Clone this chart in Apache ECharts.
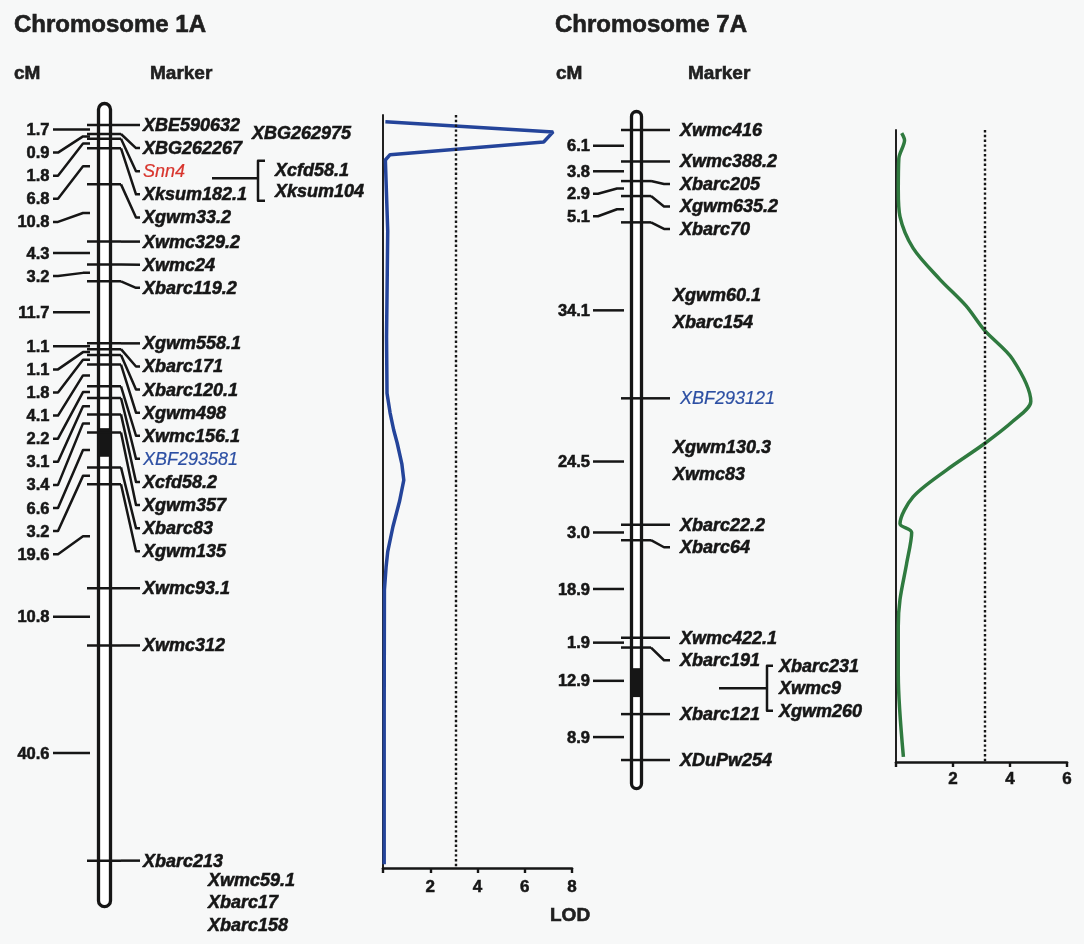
<!DOCTYPE html>
<html><head><meta charset="utf-8">
<script src="https://cdn.jsdelivr.net/npm/echarts@6/dist/echarts.min.js"></script>
<style>html,body{margin:0;padding:0;background:#f7f8f8}#c{width:1084px;height:944px}</style>
</head><body><div id="c"></div>
<script>
// ================= DATA =================
// Chromosome 1A: markers (top to bottom) and distances (cM) between consecutive markers
const chr1A_markers = ['XBE590632','XBG262267','Snn4','Xksum182.1','Xgwm33.2','Xwmc329.2','Xwmc24','Xbarc119.2',
  'Xgwm558.1','Xbarc171','Xbarc120.1','Xgwm498','Xwmc156.1','XBF293581','Xcfd58.2','Xgwm357','Xbarc83','Xgwm135',
  'Xwmc93.1','Xwmc312','Xbarc213'];
const chr1A_intervals = [1.7,0.9,1.8,6.8,10.8,4.3,3.2,11.7,1.1,1.1,1.8,4.1,2.2,3.1,3.4,6.6,3.2,19.6,10.8,40.6];
const chr1A_extra = 'XBG262975';              // placed beside the top marker
const chr1A_extraPos = 1.5;                    // cM
const chr1A_snn4Group = ['Xcfd58.1','Xksum104'];       // co-segregating with Snn4
const chr1A_endGroup = ['Xwmc59.1','Xbarc17','Xbarc158']; // co-located with Xbarc213
const chr1A_centromere = [57.2, 62.6];         // cM

// Chromosome 7A
const chr7A_markers = ['Xwmc416','Xwmc388.2','Xbarc205','Xgwm635.2','Xbarc70','XBF293121','Xbarc22.2','Xbarc64',
  'Xwmc422.1','Xbarc191','Xbarc121','XDuPw254'];
const chr7A_intervals = [6.1,3.8,2.9,5.1,34.1,24.5,3.0,18.9,1.9,12.9,8.9];
const chr7A_floatA = ['Xgwm60.1','Xbarc154'];   const chr7A_floatAPos = 34.6;
const chr7A_floatB = ['Xgwm130.3','Xwmc83'];    const chr7A_floatBPos = 64.1;
const chr7A_bracket = ['Xbarc231','Xwmc9','Xgwm260']; const chr7A_bracketPos = 108.2;
const chr7A_centromere = [104.3, 109.9];

// LOD profiles (position in cM, LOD score)
const lod1A_pos = [-0.6, 1.3, 3.2, 5.6, 6.6, 20, 40, 50.6, 54.3, 57.5, 60.0, 64.0, 67.0, 71.0, 75.8, 80.5, 83.4, 87.7, 110, 139.5];
const lod1A_lod = [0.1, 7.2, 6.8, 0.3, 0.1, 0.2, 0.15, 0.17, 0.3, 0.45, 0.6, 0.8, 0.88, 0.7, 0.42, 0.2, 0.13, 0.06, 0.05, 0.05];
const lod7A_pos = [0.6, 2.0, 5.5, 11.6, 16.8, 22.9, 28.9, 34.1, 38.8, 44.4, 52.6, 56.5, 60.8, 65.9, 71.1, 76.3, 78.0, 84.1, 91.0, 96.1, 105.6, 121.5];
const lod7A_lod = [0.2, 0.3, 0.1, 0.08, 0.14, 0.6, 1.53, 2.46, 3.1, 4.09, 4.73, 4.09, 3.1, 1.77, 0.6, 0.14, 0.55, 0.37, 0.14, 0.08, 0.08, 0.26];
const lodThreshold = 3.1;
const lod1A_ticks = ['2','4','6','8'];
const lod7A_ticks = ['2','4','6'];

// ================= STYLE / LAYOUT =================
const FONT = '"Liberation Sans", Arial, Helvetica, sans-serif';
const INK = '#161616';
const highlight = {'Snn4':'#d8342c','XBF293581':'#2c4fa3','XBF293121':'#2c4fa3'};
const markerFont = 'italic bold 18px ' + FONT;
const markerFontLight = 'italic 18px ' + FONT;
const numFont = 'bold 16.5px ' + FONT;

function cumulative(iv){ const p=[0]; iv.forEach(v=>p.push(Math.round((p[p.length-1]+v)*100)/100)); return p; }
function pushDown(ys, gap){ const out=[]; let prev=-1e9; ys.forEach(y=>{const v=Math.max(y, prev+gap); out.push(v); prev=v;}); return out; }

const chr1A_pos = cumulative(chr1A_intervals);
const chr7A_pos = cumulative(chr7A_intervals);

function makeRenderer(cfg){
  return function(params, api){
    const Y = cm => api.coord([0, cm])[1];
    const L = cfg.layout, pos = cfg.positions;
    const my = pos.map(Y);
    const mids = cfg.intervals.map((v,i)=>Y((pos[i]+pos[i+1])/2));
    const ly = pushDown(my, L.gap);
    const lly = pushDown(mids, L.gap);
    const ch = [];
    const line = (pts, w) => ({type:'polyline', shape:{points:pts}, style:{stroke:INK, lineWidth:w||2.5, fill:null, lineJoin:'round'}});
    const text = (t, x, y, font, color, align, heavy) => ({type:'text', style:{text:t, x:x, y:y, font:font, fill:color||INK,
      stroke:color||INK, lineWidth:heavy===false?0.2:0.55, align:align||'left', verticalAlign:'middle'}});
    const top = my[0]-L.padTop, bot = my[my.length-1]+L.padBottom;
    ch.push({type:'rect', shape:{x:L.cx-L.w/2, y:top, width:L.w, height:bot-top, r:L.w/2}, style:{fill:'#ffffff', stroke:INK, lineWidth:3.3}});
    const c0 = Y(cfg.centromere[0]), c1 = Y(cfg.centromere[1]);
    ch.push({type:'rect', shape:{x:L.cx-L.w/2, y:c0, width:L.w, height:c1-c0}, style:{fill:INK}});
    // left: interval distances
    cfg.intervals.forEach((v,i)=>{
      const a = lly[i], t = mids[i];
      if (Math.abs(a-t) < 0.5) ch.push(line([[L.nL, a],[L.nE, t]]));
      else ch.push(line([[L.nL, a],[L.nL+5, a],[L.nD, t],[L.nE, t]]));
      ch.push(text(v.toFixed(1), L.nR, a+1, numFont, INK, 'right'));
    });
    // right: markers
    cfg.markers.forEach((m,i)=>{
      const a = ly[i], t = my[i];
      ch.push(line([[L.tL, t],[L.tR, t]]));
      if (Math.abs(a-t) < 0.5) ch.push(line([[L.tR, t],[L.lE, a]]));
      else ch.push(line([[L.tR, t],[L.cX, a],[L.lE, a]]));
      const col = highlight[m];
      ch.push(text(m, L.lX, a+1, col ? markerFontLight : markerFont, col || INK, 'left', col ? false : true));
    });
    if (cfg.extra) cfg.extra(ch, Y, ly, my, line, text);
    return {type:'group', children:ch};
  };
}

const L1 = {cx:104.5, w:12, padTop:21.5, padBottom:46, tL:87, tR:121, cX:136, lE:140, lX:143,
            nR:49.5, nL:53, nD:83, nE:90, gap:23.1};
const L7 = {cx:636.5, w:10, padTop:18.5, padBottom:28.5, tL:621, tR:651, cX:664, lE:670, lX:680,
            nR:590, nL:593, nD:617, nE:624, gap:22.5};

const chr1A_cfg = {layout:L1, positions:chr1A_pos, intervals:chr1A_intervals, markers:chr1A_markers, centromere:chr1A_centromere,
  extra:function(ch, Y, ly, my, line, text){
    ch.push(text(chr1A_extra, 252, Y(chr1A_extraPos)+1, markerFont));
    const k = chr1A_markers.indexOf('Snn4');
    const anc = ly[k] + 7;
    ch.push(line([[212, anc],[258, anc]]));
    const n = chr1A_snn4Group.length;
    const ys = chr1A_snn4Group.map((s,j)=>anc + (j-(n-1)/2)*21 + 2);
    ch.push(line([[265, ys[0]-9],[258, ys[0]-9],[258, ys[n-1]+10],[265, ys[n-1]+10]]));
    chr1A_snn4Group.forEach((s,j)=>ch.push(text(s, 275, ys[j]+1, markerFont)));
    const last = ly[ly.length-1];
    chr1A_endGroup.forEach((s,j)=>ch.push(text(s, 208, last + 20 + j*22.5, markerFont)));
  }};

const chr7A_cfg = {layout:L7, positions:chr7A_pos, intervals:chr7A_intervals, markers:chr7A_markers, centromere:chr7A_centromere,
  extra:function(ch, Y, ly, my, line, text){
    [[chr7A_floatA, chr7A_floatAPos],[chr7A_floatB, chr7A_floatBPos]].forEach(g=>{
      const c = Y(g[1]);
      g[0].forEach((s,j)=>ch.push(text(s, 673, c + (j-0.5)*27.5 + 1, markerFont)));
    });
    const anc = Y(chr7A_bracketPos);
    const n = chr7A_bracket.length;
    const ys = chr7A_bracket.map((s,j)=>anc + (j-(n-1)/2)*22.5);
    ch.push(line([[719, anc],[767, anc]]));
    ch.push(line([[773, ys[0]],[767, ys[0]],[767, ys[n-1]],[773, ys[n-1]]]));
    chr7A_bracket.forEach((s,j)=>ch.push(text(s, 779, ys[j]+1, markerFont)));
  }};

// scales: 1A 5.3 px/cM with 0 cM at y=125 ; 7A 5.16 px/cM with 0 cM at y=130
const S1 = {top:125, k:5.3}, S7 = {top:130, k:5.16};
const chr1A_max = chr1A_pos[chr1A_pos.length-1];
const chr7A_max = chr7A_pos[chr7A_pos.length-1];
const lod1Grid = {top:115, bottom:868};
const lod7Grid = {top:130, bottom:762};

const hiddenX = {type:'value', min:0, max:1, show:false};
function hiddenY(min,max){ return {type:'value', min:min, max:max, inverse:true, show:false}; }
function lodX(gridIndex, max, ticks, margin){
  return {type:'value', gridIndex:gridIndex, min:0, max:max, interval:2,
    axisLine:{show:true, onZero:false, lineStyle:{color:INK, width:2.6}},
    axisTick:{show:true, inside:false, length:5, lineStyle:{color:INK, width:2.4}},
    splitLine:{show:false},
    axisLabel:{show:true, margin:margin, color:INK, fontFamily:FONT, fontWeight:'bold', fontSize:17,
      textBorderColor:INK, textBorderWidth:0.5,
      formatter:function(v){ const s=String(v); return ticks.indexOf(s)>=0 ? s : ''; }}};
}
function lodY(gridIndex, min, max){
  return {type:'value', gridIndex:gridIndex, min:min, max:max, inverse:true,
    axisLine:{show:true, onZero:false, lineStyle:{color:INK, width:1.9}},
    axisTick:{show:false}, axisLabel:{show:false}, splitLine:{show:false}};
}
function zip(a,b){ return a.map((v,i)=>[b[i], v]); }
const titleStyle = (size)=>({fontFamily:FONT, fontWeight:'bold', fontSize:size, color:'#202020', textBorderColor:'#202020', textBorderWidth:0.6});

const chart = echarts.init(document.getElementById('c'), null, {renderer:'canvas'});
chart.setOption({
  backgroundColor:'#f7f8f8',
  animation:false,
  title:[
    {text:'Chromosome 1A', left:14, top:13, padding:0, textStyle:titleStyle(24)},
    {text:'cM', left:14, top:64, padding:0, textStyle:titleStyle(19)},
    {text:'Marker', left:150, top:64, padding:0, textStyle:titleStyle(19)},
    {text:'Chromosome 7A', left:555, top:13, padding:0, textStyle:titleStyle(24)},
    {text:'cM', left:556, top:64, padding:0, textStyle:titleStyle(19)},
    {text:'Marker', left:688, top:64, padding:0, textStyle:titleStyle(19)},
    {text:'LOD', left:550, top:906, padding:0, textStyle:titleStyle(19)}
  ],
  grid:[
    {left:0, width:1084, top:S1.top, height:chr1A_max*S1.k, outerBoundsMode:'none'},
    {left:0, width:1084, top:S7.top, height:chr7A_max*S7.k, outerBoundsMode:'none'},
    {left:383, width:189, top:lod1Grid.top, height:lod1Grid.bottom-lod1Grid.top, outerBoundsMode:'none'},
    {left:896, width:171, top:lod7Grid.top, height:lod7Grid.bottom-lod7Grid.top, outerBoundsMode:'none'}
  ],
  xAxis:[
    Object.assign({gridIndex:0}, hiddenX),
    Object.assign({gridIndex:1}, hiddenX),
    lodX(2, 8, lod1A_ticks, 11),
    lodX(3, 6, lod7A_ticks, 9)
  ],
  yAxis:[
    Object.assign({gridIndex:0}, hiddenY(0, chr1A_max)),
    Object.assign({gridIndex:1}, hiddenY(0, chr7A_max)),
    lodY(2, (lod1Grid.top-S1.top)/S1.k, (lod1Grid.bottom-S1.top)/S1.k),
    lodY(3, (lod7Grid.top-S7.top)/S7.k, (lod7Grid.bottom-S7.top)/S7.k)
  ],
  series:[
    {type:'custom', xAxisIndex:0, yAxisIndex:0, clip:false, silent:true, data:[[0,0]], renderItem:makeRenderer(chr1A_cfg)},
    {type:'custom', xAxisIndex:1, yAxisIndex:1, clip:false, silent:true, data:[[0,0]], renderItem:makeRenderer(chr7A_cfg)},
    {type:'line', xAxisIndex:2, yAxisIndex:2, data:zip(lod1A_pos, lod1A_lod), symbol:'none', smooth:false,
      lineStyle:{color:'#24449a', width:3.5}, z:3,
      markLine:{silent:true, symbol:'none', label:{show:false}, lineStyle:{color:INK, type:'dotted', width:2.4},
        data:[{xAxis:lodThreshold}]}},
    {type:'line', xAxisIndex:3, yAxisIndex:3, data:zip(lod7A_pos, lod7A_lod), symbol:'none', smooth:0.3,
      lineStyle:{color:'#2f7a3f', width:3.5}, z:3,
      markLine:{silent:true, symbol:'none', label:{show:false}, lineStyle:{color:INK, type:'dotted', width:2.4},
        data:[{xAxis:lodThreshold}]}}
  ]
});
</script></body></html>
